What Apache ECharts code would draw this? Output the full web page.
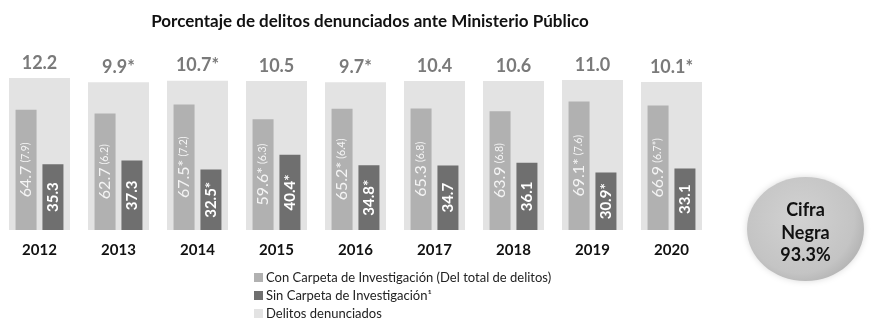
<!DOCTYPE html>
<html>
<head>
<meta charset="utf-8">
<script src="https://cdn.jsdelivr.net/npm/echarts@6/dist/echarts.min.js"></script>
<style>
  html, body { margin: 0; padding: 0; background: #fff; }
  #chart { width: 871px; height: 319px; }
</style>
</head>
<body>
<div id="chart"></div>
<script>
// datos
const years = ['2012', '2013', '2014', '2015', '2016', '2017', '2018', '2019', '2020'];
const denunciados = [12.2, 9.9, 10.7, 10.5, 9.7, 10.4, 10.6, 11.0, 10.1];
const denunciadosStar = [false, true, true, false, true, false, false, false, true];
const conCarpeta = [64.7, 62.7, 67.5, 59.6, 65.2, 65.3, 63.9, 69.1, 66.9];
const conCarpetaTotal = ['7.9', '6.2', '7.2', '6.3', '6.4', '6.8', '6.8', '7.6', '6.7*'];
const sinCarpeta = [35.3, 37.3, 32.5, 40.4, 34.8, 34.7, 36.1, 30.9, 33.1];
const cambioStar = [false, false, true, true, true, false, false, true, false];
// alto de la barra de fondo (escala 0-100)
const fondo = [81.7, 79.4, 80.3, 80.1, 79.4, 80.1, 80.1, 80.6, 79.6];
const cifraNegra = 93.3;

const FONT = 'Lato, "Open Sans", sans-serif';
const C_CON = '#b1b1b1';
const C_SIN = '#6f6f6f';
const C_BG = '#e3e3e3';

const chart = echarts.init(document.getElementById('chart'));

const option = {
    backgroundColor: '#fff',
    animation: false,
    textStyle: { fontFamily: FONT },
    title: {
        text: 'Porcentaje de delitos denunciados ante Ministerio Público',
        left: 365,
        textAlign: 'center',
        top: 8,
        textStyle: { fontSize: 17, fontWeight: 'bold', color: '#111', fontFamily: FONT }
    },
    legend: {
        orient: 'vertical',
        left: 254,
        top: 271,
        height: 60,
        padding: 0,
        itemWidth: 9,
        itemHeight: 9,
        itemGap: 5,
        icon: 'rect',
        textStyle: { fontSize: 13, lineHeight: 13, color: '#222', fontFamily: FONT, padding: [0, 0, 0, -2] },
        data: [
            'Con Carpeta de Investigación (Del total de delitos)',
            'Sin Carpeta de Investigación¹',
            'Delitos denunciados'
        ]
    },
    grid: { left: 0, right: 160, top: 44, bottom: 89 },
    xAxis: [
        {
            type: 'category',
            data: years,
            axisLine: { show: false },
            axisTick: { show: false },
            axisLabel: { color: '#111', fontWeight: 'bold', fontSize: 15, margin: 13, fontFamily: FONT }
        },
        {
            type: 'category',
            data: years,
            show: false
        }
    ],
    yAxis: { type: 'value', min: 0, max: 100, show: false },
    series: [
        {
            name: 'Delitos denunciados',
            type: 'bar',
            xAxisIndex: 0,
            barWidth: 61,
            itemStyle: { color: C_BG },
            z: 1,
            data: fondo,
            label: {
                show: true,
                position: 'top',
                distance: 6,
                color: '#7a7a7a',
                fontWeight: 'bold',
                fontSize: 18,
                fontFamily: FONT,
                formatter: p => denunciados[p.dataIndex].toFixed(1) + (denunciadosStar[p.dataIndex] ? '*' : '')
            }
        },
        {
            name: 'Con Carpeta de Investigación (Del total de delitos)',
            type: 'bar',
            xAxisIndex: 1,
            barWidth: 21,
            barGap: '28%',
            itemStyle: { color: C_CON },
            z: 3,
            data: conCarpeta,
            label: {
                show: true,
                position: 'inside',
                rotate: 90,
                formatter: p => '{a|' + p.value.toFixed(1) + (cambioStar[p.dataIndex] ? '*' : '') + '} {b|(' + conCarpetaTotal[p.dataIndex] + ')}',
                rich: {
                    a: { color: '#f4f4f4', fontSize: 16, fontFamily: FONT },
                    b: { color: '#f4f4f4', fontSize: 10.5, fontFamily: FONT }
                }
            }
        },
        {
            name: 'Sin Carpeta de Investigación¹',
            type: 'bar',
            xAxisIndex: 1,
            barWidth: 21,
            barGap: '28%',
            itemStyle: { color: C_SIN },
            z: 3,
            data: sinCarpeta,
            label: {
                show: true,
                position: 'inside',
                rotate: 90,
                color: '#fff',
                fontWeight: 'bold',
                fontSize: 15,
                fontFamily: FONT,
                formatter: p => p.value.toFixed(1) + (cambioStar[p.dataIndex] ? '*' : '')
            }
        }
    ],
    graphic: [
        {
            type: 'ellipse',
            shape: { cx: 805.5, cy: 229, rx: 58.5, ry: 52 },
            style: {
                fill: new echarts.graphic.RadialGradient(0.45, 0.4, 0.7, [
                    { offset: 0, color: '#d2d2d2' },
                    { offset: 0.75, color: '#c4c4c4' },
                    { offset: 1, color: '#aeaeae' }
                ]),
                shadowBlur: 6,
                shadowColor: 'rgba(0,0,0,0.15)'
            },
            z: 10
        },
        {
            type: 'text',
            x: 805.5,
            y: 233,
            z: 11,
            style: {
                text: 'Cifra\nNegra\n' + cifraNegra.toFixed(1) + '%',
                fill: '#111',
                font: 'bold 18px ' + FONT,
                lineHeight: 22.5,
                align: 'center',
                verticalAlign: 'middle'
            }
        }
    ]
};

chart.setOption(option);
window.addEventListener('resize', () => chart.resize());
</script>
</body>
</html>
